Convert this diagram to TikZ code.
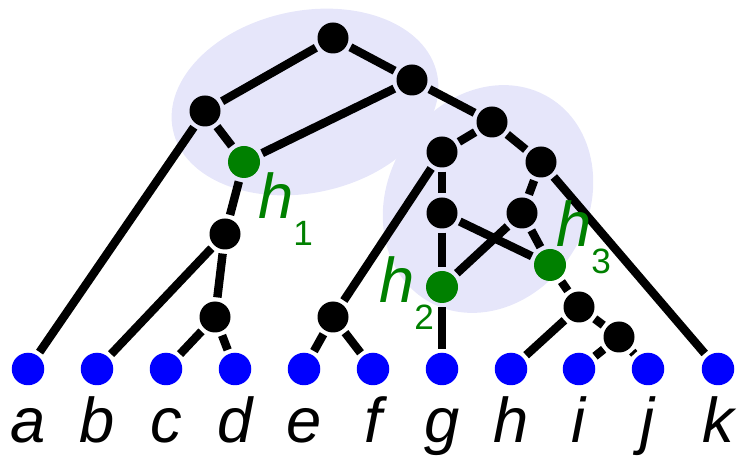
\documentclass[tikz,border=0pt]{standalone}
\usepackage{fontspec}
\setmainfont{Liberation Sans}
\usepackage{tikz}
\usepackage{xcolor}
\definecolor{blobcol}{RGB}{230,230,250}
\newcommand{\hyblabel}[1]{\textit{h}\raisebox{-15pt}{\fontsize{20}{22}\selectfont #1}}

\begin{document}
\begin{tikzpicture}[line width=4.8pt,
  inner/.style={circle,fill=black,inner sep=0pt,minimum size=0.62cm},
  leaf/.style={circle,fill=blue,inner sep=0pt,minimum size=0.65cm},
  hyb/.style={circle,fill=green!50!black,inner sep=0pt,minimum size=0.64cm},
  leaflab/.style={anchor=base,inner sep=0pt,font=\fontsize{36}{40}\selectfont\itshape},
  hyblab/.style={anchor=base west,inner sep=0pt,text=green!50!black,font=\fontsize{36}{40}\selectfont}]
\useasboundingbox (0,0) rectangle (14.98,9.12);
% shaded blobs
\fill[blobcol,rotate around={12:(6.10,7.08)}] (6.10,7.08) ellipse (2.7 and 1.82);
\fill[blobcol,rotate around={-31:(9.76,5.14)}] (9.76,5.14) ellipse (2.0 and 2.37);
% tree vertices
\node[inner] (root) at (6.66,8.36) {};
\node[inner] (u1) at (4.10,6.90) {};
\node[inner] (u2) at (8.24,7.52) {};
\node[inner] (u3) at (4.50,4.44) {};
\node[inner] (u4) at (4.30,2.78) {};
\node[inner] (u5) at (9.84,6.68) {};
\node[inner] (u6) at (8.84,6.08) {};
\node[inner] (u7) at (6.66,2.78) {};
\node[inner] (u8) at (8.84,4.86) {};
\node[inner] (u9) at (10.82,5.88) {};
\node[inner] (u10) at (10.44,4.86) {};
\node[inner] (u11) at (11.58,2.98) {};
\node[inner] (u12) at (12.38,2.38) {};
\node[hyb] (h1) at (4.88,5.88) {};
\node[hyb] (h2) at (8.84,3.38) {};
\node[hyb] (h3) at (11.00,3.82) {};
\node[leaf] (a) at (0.56,1.74) {};
\node[leaf] (b) at (1.94,1.74) {};
\node[leaf] (c) at (3.32,1.74) {};
\node[leaf] (d) at (4.70,1.74) {};
\node[leaf] (e) at (6.08,1.74) {};
\node[leaf] (f) at (7.46,1.74) {};
\node[leaf] (g) at (8.84,1.74) {};
\node[leaf] (h) at (10.22,1.74) {};
\node[leaf] (i) at (11.58,1.74) {};
\node[leaf] (j) at (12.96,1.74) {};
\node[leaf] (k) at (14.36,1.74) {};
% edges
\draw (root) -- (u1);
\draw (root) -- (u2);
\draw (u1) -- (a);
\draw (u1) -- (h1);
\draw (u2) -- (h1);
\draw (u2) -- (u5);
\draw (h1) -- (u3);
\draw (u3) -- (b);
\draw (u3) -- (u4);
\draw (u4) -- (c);
\draw (u4) -- (d);
\draw (u5) -- (u6);
\draw (u5) -- (u9);
\draw (u6) -- (u7);
\draw (u7) -- (e);
\draw (u7) -- (f);
\draw (u6) -- (u8);
\draw (u8) -- (h2);
\draw (h2) -- (g);
\draw (u8) -- (h3);
\draw (u9) -- (u10);
\draw (u10) -- (h2);
\draw (u10) -- (h3);
\draw (u9) -- (k);
\draw (h3) -- (u11);
\draw (u11) -- (h);
\draw (u11) -- (u12);
\draw (u12) -- (i);
\draw (u12) -- (j);
% labels
\node[hyblab] (lh1) at (5.08,4.74) {\hyblabel{1}};
\node[hyblab] (lh2) at (7.50,3.06) {\hyblabel{2}};
\node[hyblab] (lh3) at (11.04,4.18) {\hyblabel{3}};
\node[leaflab] (la) at (0.56,0.28) {a};
\node[leaflab] (lb) at (1.94,0.28) {b};
\node[leaflab] (lc) at (3.32,0.28) {c};
\node[leaflab] (ld) at (4.70,0.28) {d};
\node[leaflab] (le) at (6.08,0.28) {e};
\node[leaflab] (lf) at (7.46,0.28) {f};
\node[leaflab] (lg) at (8.84,0.28) {g};
\node[leaflab] (lh) at (10.22,0.28) {h};
\node[leaflab] (li) at (11.58,0.28) {i};
\node[leaflab] (lj) at (12.96,0.28) {j};
\node[leaflab] (lk) at (14.36,0.28) {k};
\end{tikzpicture}
\end{document}
